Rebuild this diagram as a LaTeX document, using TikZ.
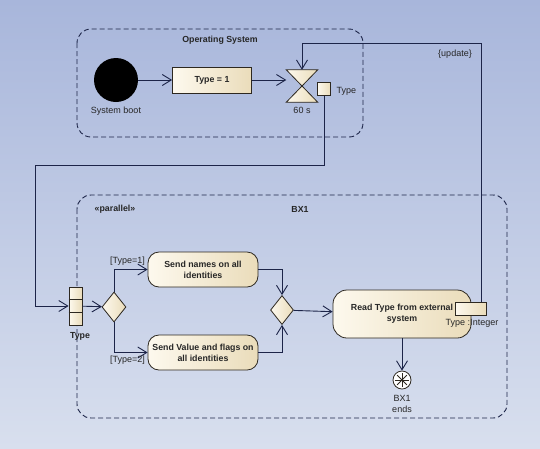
\documentclass[tikz,border=0pt]{standalone}
\usepackage{fontspec}
\setmainfont{Liberation Sans}
\usetikzlibrary{arrows.meta,shapes.geometric,calc}
\definecolor{bgtop}{RGB}{168,182,219}
\definecolor{bgbot}{RGB}{216,223,238}
\definecolor{linec}{RGB}{28,36,72}
\definecolor{creamlt}{RGB}{253,249,238}
\definecolor{creamdk}{RGB}{234,220,186}
\definecolor{edgec}{RGB}{45,40,32}

\begin{document}
\begin{tikzpicture}[x=1pt,y=-1pt,
	every node/.style={font=\fontsize{9}{10.5}\selectfont, text=black!85},
	bold/.style={font=\fontsize{8.8}{10.5}\selectfont\bfseries},
	cream/.style={draw=edgec, line width=0.8pt, left color=creamlt, right color=creamdk},
	action/.style={cream, rounded corners=11pt, minimum width=110pt, minimum height=35pt, align=center, font=\fontsize{8.8}{11}\selectfont\bfseries},
	decision/.style={cream, diamond, inner sep=0pt, minimum width=24pt, minimum height=30pt},
	pin/.style={cream, inner sep=0pt},
	frame/.style={draw=linec, line width=0.9pt, dash pattern=on 5pt off 3pt, rounded corners=14pt},
	flow/.style={draw=linec, line width=0.9pt, -{Straight Barb[length=9pt,width=11pt,line width=0.9pt]}}]
			\fill[top color=bgtop, bottom color=bgbot] (0,0) rectangle (540,448);
			\useasboundingbox (0,0) rectangle (540,448);
			
			% operating system
			\draw[frame] (77,29) rectangle (363,137);
			\node[bold] (ostitle) at (220,40) {Operating System};
			\node[circle, fill=black, minimum size=44pt, inner sep=0pt] (boot) at (116,80) {};
			\node (bootlbl) at (116,111) {System boot};
			\node[cream, minimum width=79pt, minimum height=26pt, bold] (typeone) at (212,80) {Type = 1};
			\node[minimum width=31pt, minimum height=32pt, inner sep=0pt] (timer) at (302,86) {};
			\draw[cream] (timer.north west) -- (timer.north east) -- (timer.south west) -- (timer.south east) -- cycle;
			\node (timerlbl) at (302,110) {60 s};
			\node[pin, minimum size=13pt] (timerpin) at (324,89) {};
			\node[anchor=west] (timerpinlbl) at (333,91) {Type};
			\node (updlbl) at (455,54) {\{update\}};
			
			% BX1
			\draw[frame] (77,195) rectangle (507,418);
			\node[bold] (partag) at (115,209) {«parallel»};
			\node[bold] (bxtitle) at (300,209) {BX1};
			\node[pin, minimum width=13pt, minimum height=38pt] (typepin) at (75.5,306) {};
			\draw[edgec, line width=0.8pt] ($(typepin.north west)!1/3!(typepin.south west)$) -- ($(typepin.north east)!1/3!(typepin.south east)$);
			\draw[edgec, line width=0.8pt] ($(typepin.north west)!2/3!(typepin.south west)$) -- ($(typepin.north east)!2/3!(typepin.south east)$);
			\node[bold] (typepinlbl) at (80,336) {Type};
			\node[decision] (split) at (114,307) {};
			\node[action] (sendnames) at (203,269.5) {Send names on all\\identities};
			\node[action] (sendvalue) at (203,352.5) {Send Value and flags on\\all identities};
			\node[decision, minimum width=23pt, minimum height=29pt] (merge) at (282,310) {};
			\node[action, minimum width=138pt, minimum height=48pt, rounded corners=14pt] (readtype) at (402,314) {Read Type from external\\system};
			\node[pin, minimum width=31pt, minimum height=13pt] (readpin) at (470.5,308.5) {};
			\node (readpinlbl) at (472,323) {Type :Integer};
			\node[circle, draw=edgec, line width=0.8pt, fill=white, minimum size=18pt, inner sep=0pt] (final) at (402,380) {};
			\foreach \a in {0,45,90,135}
				\draw[edgec, line width=0.8pt] (final.center) ++(\a:7) -- ++(\a+180:14);
			\node[align=center] (finallbl) at (402,404) {BX1\\ends};
			
			% flows
			\coordinate (updr) at (481,43);
			\coordinate (bendl) at (35,165);
			\draw[flow] (boot) -- (typeone);
			\draw[flow] (typeone) -- (typeone -| timer.west);
			\draw[flow] (readpin.north -| updr) -- (updr) -| (timer);
			\draw[flow] (timerpin) |- (bendl) |- (typepin);
			\draw[flow] (typepin) -- (split);
			\draw[flow] (split) |- node[pos=0.7, above] {[Type=1]} (sendnames);
			\draw[flow] (split) |- node[pos=0.7, below] {[Type=2]} (sendvalue);
			\draw[flow] (sendnames) -| (merge);
			\draw[flow] (sendvalue) -| (merge);
			\draw[flow] (merge) -- (readtype);
			\draw[flow] (readtype) -- (final);
\end{tikzpicture}
\end{document}
